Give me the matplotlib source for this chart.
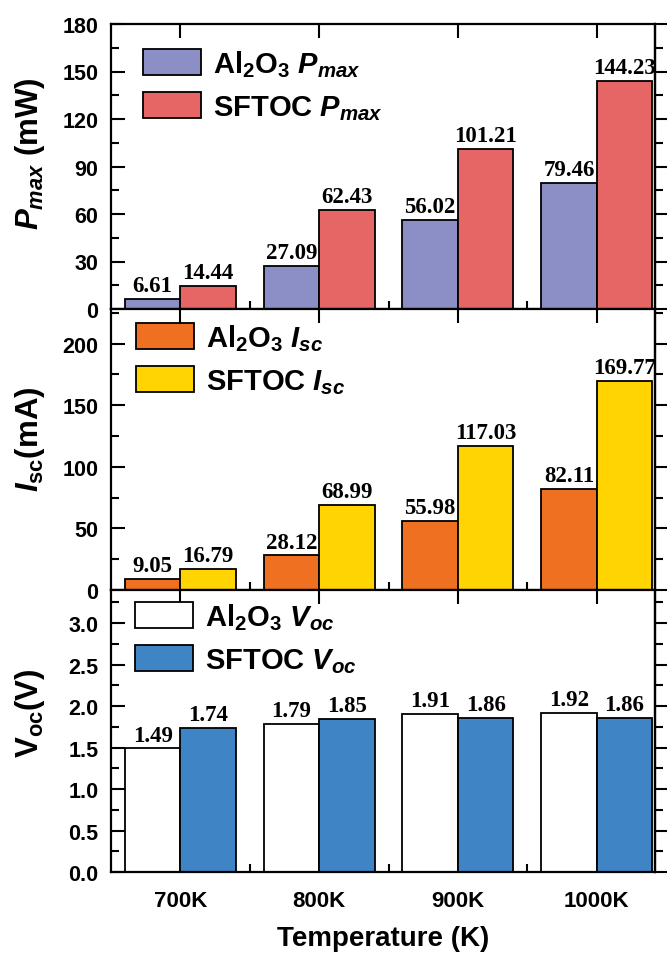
import matplotlib
matplotlib.use("Agg")
import matplotlib.pyplot as plt
import numpy as np
from matplotlib.ticker import MultipleLocator, FixedLocator

categories = ["700K", "800K", "900K", "1000K"]
al_pmax = [6.61, 27.09, 56.02, 79.46]
sf_pmax = [14.44, 62.43, 101.21, 144.23]
al_isc = [9.05, 28.12, 55.98, 82.11]
sf_isc = [16.79, 68.99, 117.03, 169.77]
al_voc = [1.49, 1.79, 1.91, 1.92]
sf_voc = [1.74, 1.85, 1.86, 1.86]

plt.rcParams['font.family'] = ['Liberation Sans', 'DejaVu Sans']
plt.rcParams['font.weight'] = 'bold'
plt.rcParams['mathtext.fontset'] = 'custom'
plt.rcParams['mathtext.rm'] = 'Liberation Sans:bold'
plt.rcParams['mathtext.it'] = 'Liberation Sans:italic:bold'
plt.rcParams['mathtext.bf'] = 'Liberation Sans:bold'
plt.rcParams['axes.linewidth'] = 1.6

fig = plt.figure(figsize=(6.67, 9.54), dpi=100)
L, R = 111/667, 655/667
tops = [25, 310, 591]
bots = [310, 591, 873]
axes = []
for t, b in zip(tops, bots):
    ax = fig.add_axes([L, 1 - b/954, R - L, (b - t)/954])
    axes.append(ax)

x = np.arange(len(categories))
w = 0.4

panels = [
    (al_pmax, sf_pmax, '#8B8FC6', '#E66565', (0, 180), 30, 15,
     r'$\mathit{P}_{\mathit{max}}$ (mW)',
     [r'Al$_2$O$_3$ $\mathit{P}_{\mathit{max}}$', r'SFTOC $\mathit{P}_{\mathit{max}}$'],
     (0.059, 0.916), "{:.2f}", lambda v: f"{v:.0f}", 0.547),
    (al_isc, sf_isc, '#F07022', '#FFD400', (0, 228), 50, 25,
     r'$\mathit{I}_{\mathrm{sc}}$(mA)',
     [r'Al$_2$O$_3$ $\mathit{I}_{\mathit{sc}}$', r'SFTOC $\mathit{I}_{\mathit{sc}}$'],
     (0.046, 0.954), "{:.2f}", lambda v: f"{v:.0f}", 0.54),
    (al_voc, sf_voc, '#FFFFFF', '#3F85C6', (0, 3.4), 0.5, 0.25,
     r'$\mathrm{V}_{\mathrm{oc}}$(V)',
     [r'Al$_2$O$_3$ $\mathit{V}_{\mathit{oc}}$', r'SFTOC $\mathit{V}_{\mathit{oc}}$'],
     (0.044, 0.961), "{:.2f}", lambda v: f"{v:.1f}", 0.565),
]

for ax, (a, s, ca, cs, ylim, maj, mnr, ylab, labs, anchor, fmt, tfmt, ly) in zip(axes, panels):
    b1 = ax.bar(x - w/2, a, w, color=ca, edgecolor='black', linewidth=1.3, label=labs[0])
    b2 = ax.bar(x + w/2, s, w, color=cs, edgecolor='black', linewidth=1.3, label=labs[1])
    off = (ylim[1] - ylim[0]) * 0.010
    for bars, vals in ((b1, a), (b2, s)):
        for rect, v in zip(bars, vals):
            ax.text(rect.get_x() + rect.get_width()/2, v + off, fmt.format(v),
                    ha='center', va='bottom', fontsize=16.5, fontweight='bold',
                    family='Liberation Serif')
    ax.set_xlim(-0.5, 3.42)
    ax.set_ylim(*ylim)
    ax.yaxis.set_major_locator(MultipleLocator(maj))
    ax.yaxis.set_minor_locator(MultipleLocator(mnr))
    ticks = np.arange(0, ylim[1] + 1e-9, maj)
    ax.set_yticks(ticks)
    ax.set_yticklabels([tfmt(v) for v in ticks])
    ax.tick_params(axis='y', which='major', direction='in', length=10, width=1.5,
                   labelsize=15.5, right=False, pad=9)
    ax.tick_params(axis='y', which='minor', direction='in', length=6, width=1.5, right=False)
    ax.set_xticks(x)
    ax.xaxis.set_minor_locator(FixedLocator([0.5, 1.5, 2.5]))
    ax.tick_params(axis='x', which='major', direction='in', length=10, width=1.5,
                   top=True, bottom=False, labelbottom=False)
    ax.tick_params(axis='x', which='minor', direction='in', length=6, width=1.5,
                   top=False, bottom=True)
    sec = ax.secondary_yaxis('right')
    sec.yaxis.set_major_locator(MultipleLocator(maj))
    sec.yaxis.set_minor_locator(MultipleLocator(mnr))
    sec.tick_params(which='major', direction='out', length=10, width=1.5, labelright=False)
    sec.tick_params(which='minor', direction='out', length=6, width=1.5)
    sec.spines['right'].set_linewidth(1.6)
    ax.set_ylabel(ylab, fontsize=22.5, fontweight='bold')
    ax.yaxis.set_label_coords(-0.118, ly)
    ax.legend(loc='upper left', bbox_to_anchor=anchor, frameon=False,
              borderpad=0, borderaxespad=0, handlelength=2.0, handleheight=1.0,
              labelspacing=0.45, handletextpad=0.4,
              prop={'weight': 'bold', 'size': 21})

axes[-1].tick_params(axis='x', which='major', labelbottom=True, labelsize=16, pad=13)
axes[-1].set_xticklabels(categories)
axes[-1].set_xlabel('Temperature (K)', fontsize=20, fontweight='bold', labelpad=10)

fig.savefig('out.png', dpi=100)
